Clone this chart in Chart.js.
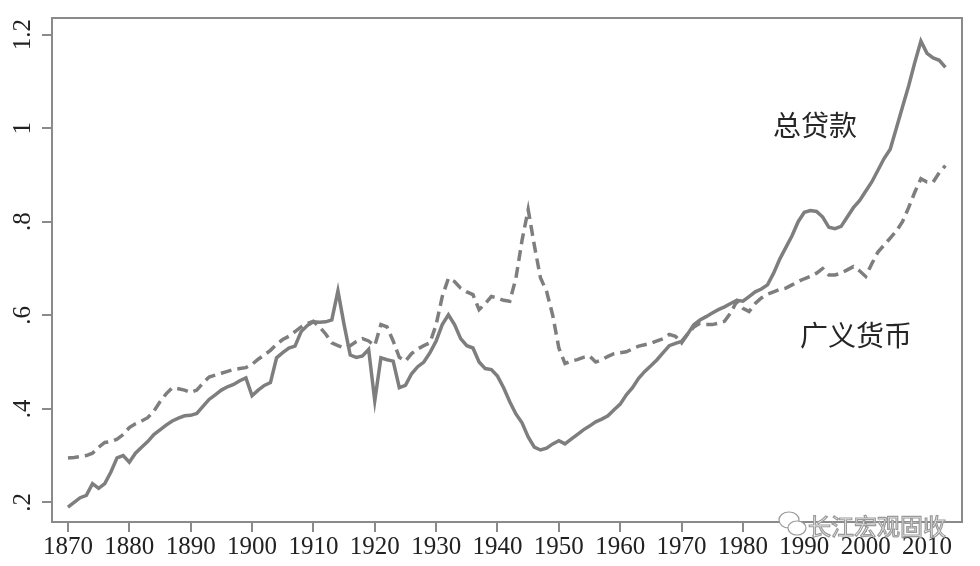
<!DOCTYPE html>
<html>
<head>
<meta charset="utf-8">
<script src="https://cdn.jsdelivr.net/npm/chart.js@4.4.1/dist/chart.umd.min.js"></script>
<style>
  html, body { margin: 0; padding: 0; background: #fff; }
  #wrap { width: 980px; height: 566px; position: relative; }
</style>
</head>
<body>
<div id="wrap"><canvas id="creditChart" width="980" height="566"></canvas></div>
<script>
// Years on the x axis (annual data)
const years = [
    1870, 1871, 1872, 1873, 1874, 1875, 1876, 1877, 1878, 1879,
    1880, 1881, 1882, 1883, 1884, 1885, 1886, 1887, 1888, 1889,
    1890, 1891, 1892, 1893, 1894, 1895, 1896, 1897, 1898, 1899,
    1900, 1901, 1902, 1903, 1904, 1905, 1906, 1907, 1908, 1909,
    1910, 1911, 1912, 1913, 1914, 1915, 1916, 1917, 1918, 1919,
    1920, 1921, 1922, 1923, 1924, 1925, 1926, 1927, 1928, 1929,
    1930, 1931, 1932, 1933, 1934, 1935, 1936, 1937, 1938, 1939,
    1940, 1941, 1942, 1943, 1944, 1945, 1946, 1947, 1948, 1949,
    1950, 1951, 1952, 1953, 1954, 1955, 1956, 1957, 1958, 1959,
    1960, 1961, 1962, 1963, 1964, 1965, 1966, 1967, 1968, 1969,
    1970, 1971, 1972, 1973, 1974, 1975, 1976, 1977, 1978, 1979,
    1980, 1981, 1982, 1983, 1984, 1985, 1986, 1987, 1988, 1989,
    1990, 1991, 1992, 1993, 1994, 1995, 1996, 1997, 1998, 1999,
    2000, 2001, 2002, 2003, 2004, 2005, 2006, 2007, 2008, 2009,
    2010, 2011, 2012, 2013
];

// 总贷款 (total loans, solid line)
const totalLoans = [
    0.19, 0.20, 0.21, 0.215, 0.24, 0.23, 0.24, 0.265, 0.295, 0.30,
    0.286, 0.305, 0.318, 0.33, 0.345, 0.355, 0.365, 0.374, 0.38, 0.385,
    0.386, 0.39, 0.405, 0.42, 0.43, 0.44, 0.447, 0.452, 0.46, 0.466,
    0.428, 0.44, 0.45, 0.456, 0.509, 0.52, 0.53, 0.534, 0.565, 0.578,
    0.586, 0.585, 0.586, 0.59, 0.652, 0.58, 0.515, 0.51, 0.513, 0.527,
    0.417, 0.509, 0.505, 0.502, 0.445, 0.45, 0.475, 0.49, 0.50, 0.52,
    0.545, 0.58, 0.601, 0.58, 0.55, 0.535, 0.53, 0.50, 0.486, 0.484,
    0.47, 0.445, 0.415, 0.389, 0.37, 0.34, 0.318, 0.312, 0.316, 0.325,
    0.332, 0.325, 0.335, 0.345, 0.355, 0.363, 0.372, 0.378, 0.385, 0.398,
    0.41, 0.43, 0.445, 0.465, 0.48, 0.492, 0.505, 0.52, 0.535, 0.54,
    0.544, 0.56, 0.58, 0.59, 0.597, 0.605, 0.612, 0.618, 0.625, 0.632,
    0.63, 0.64, 0.65, 0.656, 0.665, 0.69, 0.72, 0.745, 0.77, 0.80,
    0.82, 0.824, 0.822, 0.81, 0.788, 0.785, 0.79, 0.81, 0.83, 0.845,
    0.865, 0.885, 0.91, 0.935, 0.955, 1.0, 1.045, 1.09, 1.14, 1.186,
    1.16, 1.15, 1.145, 1.13
];

// 广义货币 (broad money, dashed line)
const broadMoney = [
    0.295, 0.296, 0.298, 0.30, 0.305, 0.318, 0.328, 0.33, 0.335, 0.345,
    0.36, 0.368, 0.374, 0.381, 0.395, 0.415, 0.432, 0.445, 0.443, 0.44,
    0.435, 0.44, 0.455, 0.468, 0.472, 0.476, 0.48, 0.484, 0.486, 0.488,
    0.495, 0.506, 0.515, 0.525, 0.538, 0.548, 0.555, 0.565, 0.575, 0.582,
    0.587, 0.575, 0.56, 0.541, 0.535, 0.53, 0.535, 0.544, 0.55, 0.545,
    0.535, 0.58, 0.575, 0.545, 0.51, 0.502, 0.518, 0.528, 0.535, 0.541,
    0.58, 0.64, 0.679, 0.672, 0.658, 0.65, 0.644, 0.612, 0.625, 0.64,
    0.637, 0.632, 0.63, 0.679, 0.76, 0.826, 0.75, 0.68, 0.651, 0.60,
    0.53, 0.497, 0.502, 0.505, 0.51, 0.513, 0.50, 0.505, 0.512, 0.518,
    0.52, 0.522, 0.528, 0.534, 0.537, 0.54, 0.545, 0.55, 0.559, 0.555,
    0.541, 0.56, 0.575, 0.583, 0.58, 0.58, 0.583, 0.587, 0.605, 0.63,
    0.615, 0.608, 0.625, 0.637, 0.645, 0.65, 0.655, 0.658, 0.665, 0.672,
    0.678, 0.683, 0.69, 0.70, 0.686, 0.686, 0.69, 0.697, 0.704, 0.695,
    0.683, 0.71, 0.735, 0.75, 0.765, 0.78, 0.80, 0.83, 0.863, 0.892,
    0.885, 0.885, 0.905, 0.92
];

const xTicks = [1870, 1880, 1890, 1900, 1910, 1920, 1930, 1940, 1950, 1960, 1970, 1980, 1990, 2000, 2010];
const yTicks = [0.2, 0.4, 0.6, 0.8, 1.0, 1.2];
const yTickLabels = ['.2', '.4', '.6', '.8', '1', '1.2'];

const axisGray = '#8a8a8a';
const lineGray = '#7e7e7e';

// frame around the plot + text labels + watermark
const framePlugin = {
    id: 'frame',
    afterDraw(chart) {
        const ctx = chart.ctx;
        const a = chart.chartArea;
        ctx.save();
        ctx.strokeStyle = axisGray;
        ctx.lineWidth = 2;
        ctx.strokeRect(a.left, a.top, a.right - a.left, a.bottom - a.top);

        // series labels
        const xs = chart.scales.x, ys = chart.scales.y;
        ctx.fillStyle = '#262626';
        ctx.font = '28px "Noto Sans CJK SC"';
        ctx.textBaseline = 'middle';
        ctx.textAlign = 'left';
        ctx.fillText('总贷款', xs.getPixelForValue(1984.9), ys.getPixelForValue(1.007));
        ctx.fillText('广义货币', xs.getPixelForValue(1989.3), ys.getPixelForValue(0.557));

        // watermark
        ctx.font = '23px "Noto Sans CJK SC"';
        ctx.lineWidth = 1.2;
        ctx.strokeStyle = '#9a9a9a';
        ctx.fillStyle = '#ffffff';
        ctx.fillText('长江宏观固收', 808, 526);
        ctx.strokeText('长江宏观固收', 808, 526);
        ctx.beginPath();
        ctx.ellipse(789, 520, 10, 8, 0, 0, Math.PI * 2);
        ctx.fillStyle = '#ffffff';
        ctx.fill();
        ctx.stroke();
        ctx.beginPath();
        ctx.ellipse(797, 528, 9, 7, 0, 0, Math.PI * 2);
        ctx.fill();
        ctx.stroke();
        ctx.restore();
    }
};

const ctx = document.getElementById('creditChart').getContext('2d');
new Chart(ctx, {
    type: 'line',
    data: {
        datasets: [
            {
                label: '总贷款',
                data: years.map((y, i) => ({ x: y, y: totalLoans[i] })),
                borderColor: lineGray,
                borderWidth: 3.5,
                pointRadius: 0,
                tension: 0,
            },
            {
                label: '广义货币',
                data: years.map((y, i) => ({ x: y, y: broadMoney[i] })),
                borderColor: lineGray,
                borderWidth: 3.5,
                borderDash: [11, 6],
                pointRadius: 0,
                tension: 0,
            },
        ],
    },
    options: {
        responsive: false,
        animation: false,
        layout: { padding: { top: 15, right: 18, left: 0, bottom: 0 } },
        plugins: {
            legend: { display: false },
            tooltip: { enabled: false },
        },
        scales: {
            x: {
                type: 'linear',
                min: 1867.4,
                max: 2015.7,
                afterBuildTicks: (scale) => { scale.ticks = xTicks.map(v => ({ value: v })); },
                afterFit: (scale) => { scale.height = 44; },
                grid: { drawOnChartArea: false, color: axisGray, lineWidth: 2, tickLength: 10 },
                border: { display: false },
                ticks: {
                    color: '#222',
                    font: { family: '"Liberation Serif"', size: 25 },
                    padding: 0,
                    maxRotation: 0,
                    autoSkip: false,
                    callback: (v) => String(v),
                },
            },
            y: {
                type: 'linear',
                min: 0.158,
                max: 1.2355,
                afterBuildTicks: (scale) => { scale.ticks = yTicks.map(v => ({ value: v })); },
                afterFit: (scale) => { scale.width = 52; },
                grid: { drawOnChartArea: false, color: axisGray, lineWidth: 2, tickLength: 10 },
                border: { display: false },
                ticks: {
                    color: '#222',
                    font: { family: '"Liberation Serif"', size: 25 },
                    minRotation: 90,
                    maxRotation: 90,
                    crossAlign: 'center',
                    padding: 3,
                    autoSkip: false,
                    callback: (v) => {
                        const idx = yTicks.findIndex(t => Math.abs(t - v) < 1e-6);
                        return idx >= 0 ? yTickLabels[idx] : '';
                    },
                },
            },
        },
    },
    plugins: [framePlugin],
});
</script>
</body>
</html>
